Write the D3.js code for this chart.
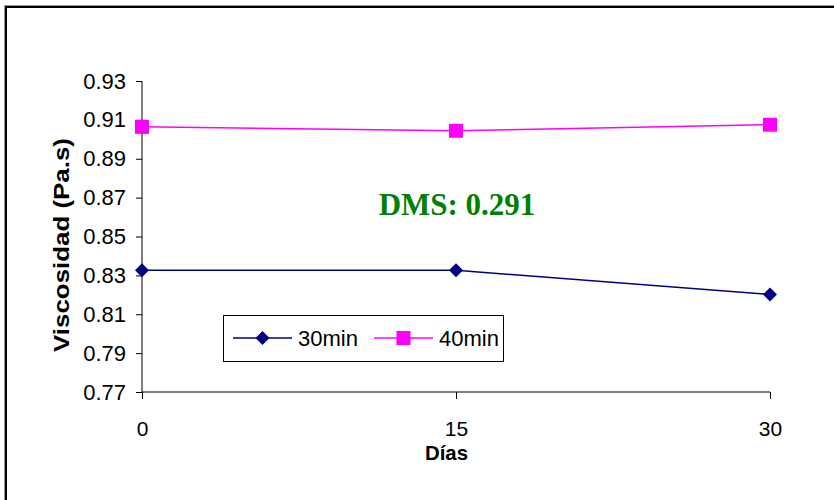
<!DOCTYPE html>
<html><head><meta charset="utf-8">
<script src="https://cdn.jsdelivr.net/npm/d3@7"></script>
<style>body{margin:0;background:#fff}svg{display:block}</style>
</head><body>
<script>
const days = [0, 15, 30];
const series30 = [0.8326, 0.8326, 0.8202];
const series40 = [0.9064, 0.9044, 0.9075];
const seriesNames = ["30min", "40min"];
const yTicks = [0.77, 0.79, 0.81, 0.83, 0.85, 0.87, 0.89, 0.91, 0.93];
const xTicks = [0, 15, 30];

const W = 834, H = 500;
const svg = d3.select("body").append("svg").attr("width", W).attr("height", H);

// outer frame
svg.append("rect").attr("x", 6).attr("y", 7).attr("width", 840).attr("height", 500)
  .attr("fill", "none").attr("stroke", "#000").attr("stroke-width", 2);
svg.append("rect").attr("x", 4.5).attr("y", 5.5).attr("width", 840).attr("height", 500)
  .attr("fill", "none").attr("stroke", "#999").attr("stroke-width", 1);

const x = d3.scaleLinear().domain([0, 30]).range([142, 770]);
const y = d3.scaleLinear().domain([0.77, 0.93]).range([392, 81]);

const font = "Arial, 'Liberation Sans', sans-serif";

// y axis
const yAx = svg.append("g").attr("transform", "translate(142,0)")
  .call(d3.axisLeft(y).tickValues(yTicks).tickFormat(d3.format(".2f")).tickSize(6).tickPadding(10));
yAx.select(".domain").attr("stroke", "#000").attr("d", "M0,81V392");
yAx.selectAll("text").attr("font-family", font).attr("font-size", 22).attr("fill", "#000");

// x axis
const xAx = svg.append("g").attr("transform", "translate(0,392)")
  .call(d3.axisBottom(x).tickValues(xTicks).tickFormat(d3.format("d")).tickSize(7).tickPadding(22));
xAx.select(".domain").attr("stroke", "#000").attr("d", "M142,0H770");
xAx.selectAll("text").attr("font-family", font).attr("font-size", 21).attr("fill", "#000");

// axis titles
svg.append("text").attr("transform", "translate(69,245) rotate(-90)")
  .attr("text-anchor", "middle").attr("font-family", font).attr("font-weight", "bold")
  .attr("font-size", 22).attr("textLength", 214).attr("lengthAdjust", "spacingAndGlyphs")
  .text("Viscosidad (Pa.s)");
svg.append("text").attr("x", 446.5).attr("y", 460).attr("text-anchor", "middle")
  .attr("font-family", font).attr("font-weight", "bold").attr("font-size", 21)
  .attr("textLength", 43).attr("lengthAdjust", "spacingAndGlyphs").text("Días");

const line = d3.line().x((d, i) => x(days[i])).y(d => y(d));

const c30 = "#000080", c40 = "#FF00FF";
svg.append("path").datum(series30).attr("d", line).attr("fill", "none").attr("stroke", c30).attr("stroke-width", 1.5);
svg.append("path").datum(series40).attr("d", line).attr("fill", "none").attr("stroke", c40).attr("stroke-width", 1.5);

const diamond = (cx, cy, r) => `M${cx},${cy - r}L${cx + r},${cy}L${cx},${cy + r}L${cx - r},${cy}Z`;
svg.selectAll(".m30").data(series30).enter().append("path")
  .attr("d", (d, i) => diamond(x(days[i]), y(d), 7)).attr("fill", c30);
svg.selectAll(".m40").data(series40).enter().append("rect")
  .attr("x", (d, i) => x(days[i]) - 7).attr("y", d => y(d) - 7)
  .attr("width", 14).attr("height", 14).attr("fill", c40);

// DMS annotation
svg.append("text").attr("x", 457).attr("y", 215).attr("text-anchor", "middle")
  .attr("font-family", "'Liberation Serif', 'Times New Roman', serif").attr("font-weight", "bold")
  .attr("font-size", 31).attr("fill", "#008000").text("DMS: 0.291");

// legend
const lg = svg.append("g");
lg.append("rect").attr("x", 223.5).attr("y", 315.5).attr("width", 280).attr("height", 46)
  .attr("fill", "#fff").attr("stroke", "#000").attr("stroke-width", 1);
const items = [
  {name: seriesNames[0], color: c30, x0: 233, type: "d"},
  {name: seriesNames[1], color: c40, x0: 374, type: "s"}
];
items.forEach(it => {
  const cy = 338;
  lg.append("line").attr("x1", it.x0).attr("x2", it.x0 + 59).attr("y1", cy).attr("y2", cy)
    .attr("stroke", it.color).attr("stroke-width", 1.5);
  const cx = it.x0 + 29.5;
  if (it.type === "d") lg.append("path").attr("d", diamond(cx, cy, 7)).attr("fill", it.color);
  else lg.append("rect").attr("x", cx - 7).attr("y", cy - 7).attr("width", 14).attr("height", 14).attr("fill", it.color);
  lg.append("text").attr("x", it.x0 + 65).attr("y", cy + 8).attr("font-family", font)
    .attr("font-size", 22).attr("textLength", 60).attr("lengthAdjust", "spacingAndGlyphs")
    .attr("fill", "#000").text(it.name);
});
</script>
</body></html>
